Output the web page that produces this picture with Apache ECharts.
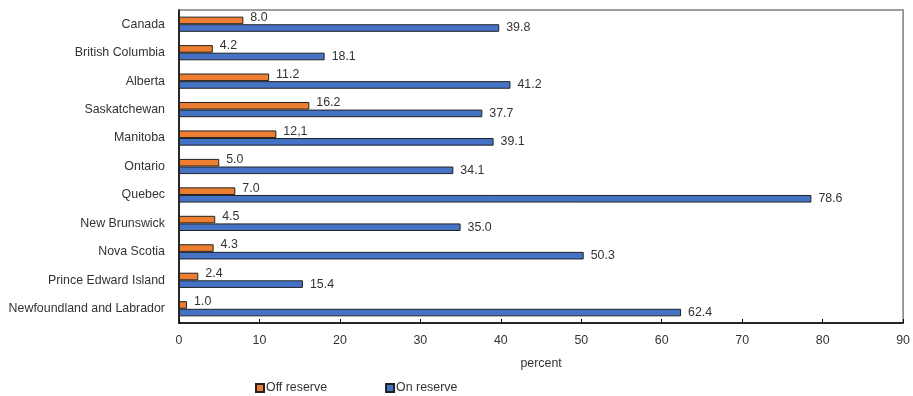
<!DOCTYPE html>
<html>
<head>
<meta charset="utf-8">
<script src="https://cdn.jsdelivr.net/npm/echarts@6/dist/echarts.min.js"></script>
<style>
  html, body { margin: 0; padding: 0; background: #fff; }
  #chart { width: 913px; height: 396px; }
</style>
</head>
<body>
<div id="chart"></div>
<script>
const categories = [
  'Canada', 'British Columbia', 'Alberta', 'Saskatchewan', 'Manitoba', 'Ontario',
  'Quebec', 'New Brunswick', 'Nova Scotia', 'Prince Edward Island', 'Newfoundland and Labrador'
];
const offReserve = [8.0, 4.2, 11.2, 16.2, 12.1, 5.0, 7.0, 4.5, 4.3, 2.4, 1.0];
const onReserve = [39.8, 18.1, 41.2, 37.7, 39.1, 34.1, 78.6, 35.0, 50.3, 15.4, 62.4];
// value labels as printed (Manitoba uses a decimal comma)
const offReserveText = ['8.0', '4.2', '11.2', '16.2', '12,1', '5.0', '7.0', '4.5', '4.3', '2.4', '1.0'];
const xTicks = { min: 0, max: 90, interval: 10 };

const FONT = "'Liberation Sans Narrow', 'Arial Narrow', 'Liberation Sans', sans-serif";
const FS = 12.4;
const chart = echarts.init(document.getElementById('chart'));

chart.setOption({
  animation: false,
  textStyle: { fontFamily: FONT },
  grid: {
    left: 179, right: 9, top: 10, bottom: 73,
    show: true, borderColor: '#7f7f7f', borderWidth: 1.5, backgroundColor: 'transparent'
  },
  legend: {
    left: 250, bottom: -3,
    itemWidth: 8, itemHeight: 8, itemGap: 58,
    icon: 'rect',
    textStyle: { fontFamily: FONT, fontSize: FS, color: '#333', padding: [0, 0, 0, -3] },
    data: ['Off reserve', 'On reserve']
  },
  xAxis: {
    type: 'value',
    min: xTicks.min, max: xTicks.max, interval: xTicks.interval,
    name: 'percent', nameLocation: 'middle', nameGap: 35,
    nameTextStyle: { fontFamily: FONT, fontSize: FS, color: '#333' },
    axisLine: { show: true, lineStyle: { color: '#000', width: 1.5 } },
    axisTick: { show: true, inside: true, length: 4, lineStyle: { color: '#000' } },
    axisLabel: { fontFamily: FONT, fontSize: FS, color: '#333', margin: 12 },
    splitLine: { show: false }
  },
  yAxis: {
    type: 'category',
    inverse: true,
    data: categories,
    axisLine: { show: true, lineStyle: { color: '#000', width: 1.5 } },
    axisTick: { show: false },
    axisLabel: { fontFamily: FONT, fontSize: FS, color: '#333', margin: 14 }
  },
  series: [
    {
      name: 'Off reserve',
      type: 'bar',
      data: offReserve,
      barWidth: 7.6,
      barGap: '0%',
      itemStyle: { color: '#ED7D31', borderColor: '#222', borderWidth: 1 },
      label: {
        show: true, position: 'right', distance: 7, offset: [0, -3],
        fontFamily: FONT, fontSize: FS, color: '#333',
        formatter: p => offReserveText[p.dataIndex]
      }
    },
    {
      name: 'On reserve',
      type: 'bar',
      data: onReserve,
      barWidth: 7.6,
      barGap: '0%',
      itemStyle: { color: '#4472C4', borderColor: '#222', borderWidth: 1 },
      label: {
        show: true, position: 'right', distance: 7, offset: [0, 0],
        fontFamily: FONT, fontSize: FS, color: '#333',
        formatter: p => p.value.toFixed(1)
      }
    }
  ]
});
</script>
</body>
</html>
